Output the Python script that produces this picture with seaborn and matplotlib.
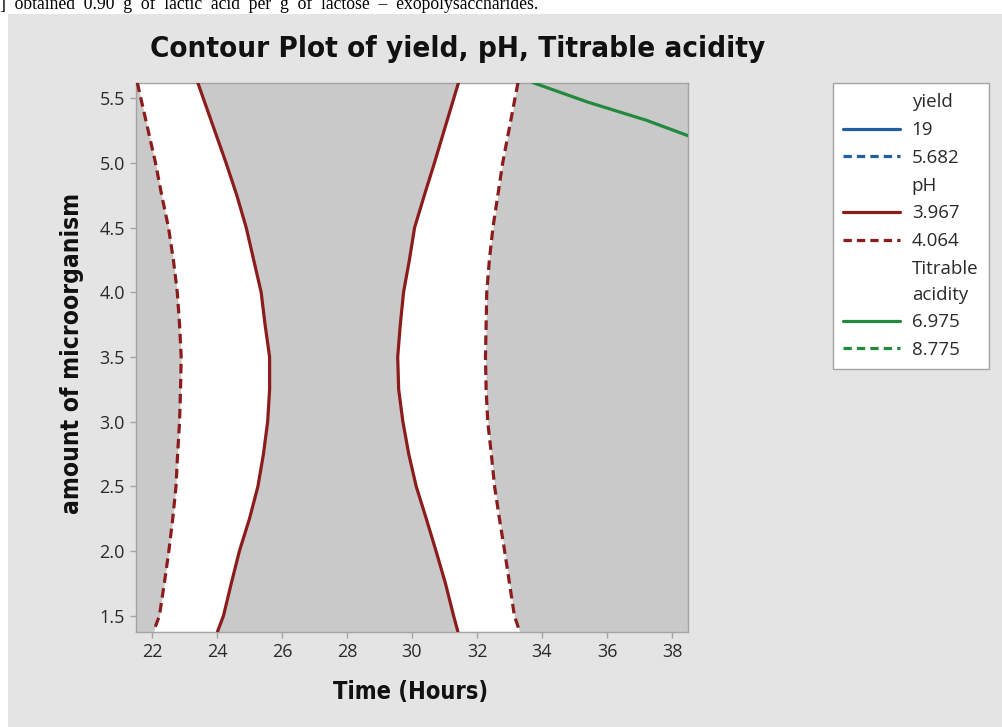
import matplotlib
matplotlib.use("Agg")
import matplotlib.pyplot as plt
from matplotlib import font_manager as fm
from matplotlib.font_manager import FontProperties
from matplotlib.lines import Line2D
from matplotlib.patches import Rectangle
import seaborn as sns

# ---------------- data ----------------
amount_levels = [5.62, 5.0, 4.75, 4.5, 4.25, 4.0, 3.75, 3.5, 3.25, 3.0,
                 2.75, 2.5, 2.25, 2.0, 1.75, 1.5, 1.38]
ph_3967_left = [23.41, 24.28, 24.61, 24.90, 25.13, 25.36, 25.48, 25.62, 25.62, 25.56,
                25.43, 25.26, 25.00, 24.69, 24.44, 24.20, 24.02]
ph_4064_left = [21.55, 22.11, 22.30, 22.51, 22.66, 22.78, 22.85, 22.90, 22.88, 22.85,
                22.79, 22.74, 22.64, 22.52, 22.38, 22.23, 22.05]
ph_3967_right = [31.43, 30.69, 30.38, 30.08, 29.92, 29.74, 29.64, 29.56, 29.59, 29.72,
                 29.90, 30.13, 30.44, 30.74, 31.03, 31.28, 31.41]
ph_4064_right = [33.26, 32.79, 32.64, 32.49, 32.38, 32.30, 32.28, 32.26, 32.28, 32.33,
                 32.44, 32.54, 32.69, 32.85, 33.00, 33.15, 33.31]
ta_6975_time = [33.72, 35.40, 37.20, 38.49]
ta_6975_amount = [5.62, 5.47, 5.33, 5.21]

x_ticks = [22, 24, 26, 28, 30, 32, 34, 36, 38]
y_ticks = [1.5, 2.0, 2.5, 3.0, 3.5, 4.0, 4.5, 5.0, 5.5]
x_limits = (21.51, 38.49)
y_limits = (1.379, 5.621)

legend_groups = ["yield", "pH", "Titrable\nacidity"]
legend_levels = [["19", "5.682"], ["3.967", "4.064"], ["6.975", "8.775"]]

title_text = "Contour Plot of yield, pH, Titrable acidity"
x_label = "Time (Hours)"
y_label = "amount of microorganism"
top_text = "]  obtained  0.90  g  of  lactic  acid  per  g  of  lactose  \u2013  exopolysaccharides."

# ---------------- style ----------------
sns.set_style("white")
avail = {f.name for f in fm.fontManager.ttflist}
ui_family = "Open Sans" if "Open Sans" in avail else "DejaVu Sans"
plt.rcParams["font.family"] = [ui_family, "DejaVu Sans"]

# look for an installed bold condensed face (closest to the reference's heading font)
bold_fp = None
for f in fm.fontManager.ttflist:
    cond = (str(f.stretch) in ("condensed", "semi-condensed", "extra-condensed")
            or "Condensed" in f.name or "Narrow" in f.name)
    w = f.weight if isinstance(f.weight, int) else (700 if "bold" in str(f.weight) else 400)
    if cond and w >= 600 and "Oblique" not in f.fname and "Italic" not in f.fname:
        bold_fp = FontProperties(fname=f.fname)
        break
if bold_fp is None:
    bold_fp = FontProperties(family="Liberation Sans", weight="bold")

C_YIELD = "#1f5f9e"
C_PH = "#8c1c1c"
C_TA = "#23893c"
PANEL = "#e4e4e4"
PLOT_BG = "#c9c9c9"
SPINE = "#a3a3a3"
TXT = "#2a2a2a"
LW = 2.3
DASH = (0, (3.0, 1.7))

W, H = 1003, 727
fig = plt.figure(figsize=(W / 100, H / 100), dpi=100)
fig.patch.set_facecolor("white")
fig.add_artist(Rectangle((8 / W, 0), 1 - 8 / W, 1 - 14 / H, transform=fig.transFigure,
                         facecolor=PANEL, edgecolor="none", zorder=-10))

ax = fig.add_axes([136 / W, 1 - 631.5 / H, 552 / W, 549 / H])
ax.set_facecolor(PLOT_BG)

# feasible (white) regions between the pH contours
ax.fill_betweenx(amount_levels, ph_4064_left, ph_3967_left, color="white", lw=0, zorder=1)
ax.fill_betweenx(amount_levels, ph_3967_right, ph_4064_right, color="white", lw=0, zorder=1)

def curve(xs, ys, color, dashed):
    sns.lineplot(x=xs, y=ys, sort=False, estimator=None, color=color, lw=LW, ax=ax,
                 zorder=3)
    line = ax.lines[-1]
    line.set_solid_joinstyle("round")
    if dashed:
        line.set_linestyle(DASH)

curve(ph_3967_left, amount_levels, C_PH, False)
curve(ph_4064_left, amount_levels, C_PH, True)
curve(ph_3967_right, amount_levels, C_PH, False)
curve(ph_4064_right, amount_levels, C_PH, True)
curve(ta_6975_time, ta_6975_amount, C_TA, False)

ax.set_xlim(*x_limits)
ax.set_ylim(*y_limits)
ax.set_xticks(x_ticks)
ax.set_xticklabels([str(v) for v in x_ticks])
ax.set_yticks(y_ticks)
ax.set_yticklabels([f"{v:.1f}" for v in y_ticks])
ax.set_xlabel("")
ax.set_ylabel("")
ax.tick_params(axis="both", direction="out", length=4, width=1, color=SPINE,
               labelcolor=TXT, labelsize=13, pad=4, left=True, bottom=True)
for s in ax.spines.values():
    s.set_color(SPINE)
    s.set_linewidth(1.0)

# ---------------- texts ----------------
def fx(px):
    return px / W

def fy(py):
    return 1 - py / H

title = fig.text(fx(458), fy(49), title_text, ha="center", va="center",
                 fontproperties=bold_fp, fontsize=20, color="#111111")
xl = fig.text(fx(411), fy(692), x_label, ha="center", va="center",
              fontproperties=bold_fp, fontsize=15, color="#111111")
yl = fig.text(fx(72), fy(353), y_label, ha="center", va="center", rotation=90,
              fontproperties=bold_fp, fontsize=15, color="#111111")
top = fig.text(0, fy(9), top_text, ha="left", va="baseline",
               family="Liberation Serif", fontsize=12, color="black", zorder=5)

fig.canvas.draw()
r = fig.canvas.get_renderer()

def fit(t, target, vertical=False):
    bb = t.get_window_extent(r)
    cur = bb.height if vertical else bb.width
    t.set_fontsize(t.get_fontsize() * target / cur)

fit(title, 613)
fit(xl, 156)
fit(yl, 320, vertical=True)
fit(top, 540)

# ---------------- legend ----------------
handles, labels = [], []
colors = [C_YIELD, C_PH, C_TA]
for g, lv, c in zip(legend_groups, legend_levels, colors):
    handles.append(Line2D([], [], color="none"))
    labels.append(g)
    handles.append(Line2D([], [], color=c, lw=LW))
    labels.append(lv[0])
    handles.append(Line2D([], [], color=c, lw=LW, linestyle=(0, (2.6, 1.6))))
    labels.append(lv[1])

leg = fig.legend(handles, labels, loc="upper left", bbox_to_anchor=(fx(833), fy(83)),
                 bbox_transform=fig.transFigure, borderaxespad=0, frameon=True,
                 fancybox=False, shadow=False, framealpha=1.0, fontsize=13.5,
                 handlelength=3.0, handletextpad=0.65, labelspacing=0.52, borderpad=0.55)
fr = leg.get_frame()
fr.set_facecolor("white")
fr.set_edgecolor(SPINE)
fr.set_linewidth(1.0)
for t in leg.get_texts():
    t.set_color(TXT)
    t.set_linespacing(1.55)

fig.savefig("out.png", dpi=100, facecolor=fig.get_facecolor())
